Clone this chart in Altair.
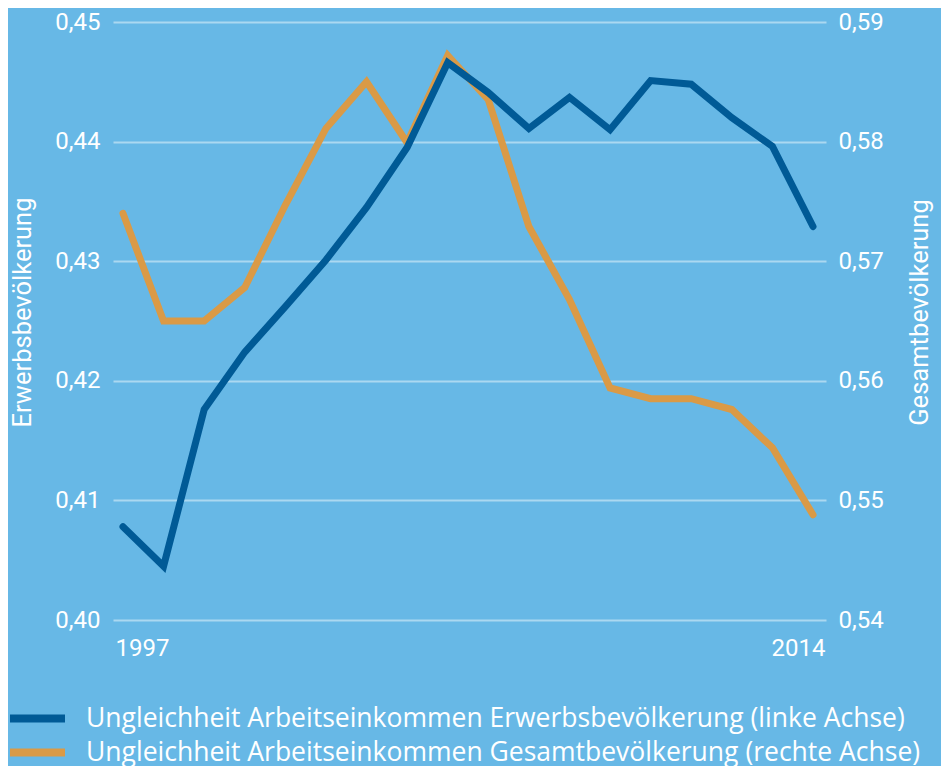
import altair as alt
import pandas as pd

years = list(range(1997, 2015))
erwerb = [0.4078, 0.4045, 0.4176, 0.4224, 0.4262, 0.4301, 0.4345, 0.4395, 0.4466,
          0.4441, 0.4411, 0.4437, 0.4410, 0.4451, 0.4448, 0.4420, 0.4396, 0.4329]
gesamt = [0.5740, 0.5650, 0.5650, 0.5678, 0.5747, 0.5811, 0.5850, 0.5799, 0.5872,
          0.5835, 0.5729, 0.5668, 0.5594, 0.5585, 0.5585, 0.5576, 0.5544, 0.5488]
series_names = ["Ungleichheit Arbeitseinkommen Erwerbsbevölkerung (linke Achse)",
                "Ungleichheit Arbeitseinkommen Gesamtbevölkerung (rechte Achse)"]
series_colors = ["#005a96", "#da9a46"]
left_ticks = [0.40, 0.41, 0.42, 0.43, 0.44, 0.45]
right_ticks = [0.54, 0.55, 0.56, 0.57, 0.58, 0.59]
x_ticks = [1997, 2014]

df = pd.DataFrame({"Jahr": years, "Erwerb": erwerb, "Gesamt": gesamt})

FONT = "Roboto"
LEGEND_FONT = "Open Sans"
BG = "#67b8e6"

x_enc = alt.X(
    "Jahr:Q",
    scale=alt.Scale(domain=[1996.754, 2014.32], nice=False, zero=False),
    axis=alt.Axis(
        values=x_ticks, format="d", title=None, grid=False, domain=False, ticks=False,
        labelFont=FONT, labelFontSize=24, labelColor="white", labelPadding=16,
        labelAlign={"expr": "datum.value < 2000 ? 'left' : 'right'"},
        labelOffset={"expr": "datum.value < 2000 ? -8 : 12"},
    ),
)

label_expr = "replace(format(datum.value, '.2f'), '.', ',')"


def legend_at(y):
    return alt.Legend(
        title=None, orient="none", legendX=-107, legendY=y,
        symbolType="stroke", symbolSize=3025, symbolStrokeWidth=8,
        labelFont=LEGEND_FONT, labelFontSize=26.5, labelColor="white", labelOffset=17,
        labelLimit=0,
    )


orange = alt.Chart(df).transform_calculate(
    Reihe=f"'{series_names[1]}'"
).mark_line(strokeWidth=7, strokeCap="round", strokeJoin="miter").encode(
    x=x_enc,
    y=alt.Y(
        "Gesamt:Q",
        scale=alt.Scale(domain=[0.54, 0.59], nice=False, zero=False),
        axis=alt.Axis(
            orient="right", values=right_ticks, labelExpr=label_expr,
            title="Gesamtbevölkerung", titleFont=FONT, titleFontSize=25.5, titleFontWeight="normal",
            titleColor="white", titleAngle=-90, titleX=93, titleY=290,
            titleAlign="center", titleBaseline="middle",
            grid=False, domain=False, ticks=False,
            labelFont=FONT, labelFontSize=24, labelColor="white", labelPadding=12,
            labelAlign="left", labelBaseline="middle",
        ),
    ),
    color=alt.Color(
        "Reihe:N",
        scale=alt.Scale(domain=[series_names[1]], range=[series_colors[1]]),
        legend=legend_at(699),
    ),
)

blue = alt.Chart(df).transform_calculate(
    Reihe=f"'{series_names[0]}'"
).mark_line(strokeWidth=7, strokeCap="round", strokeJoin="miter").encode(
    x=x_enc,
    y=alt.Y(
        "Erwerb:Q",
        scale=alt.Scale(domain=[0.40, 0.45], nice=False, zero=False),
        axis=alt.Axis(
            orient="left", values=left_ticks, labelExpr=label_expr,
            title="Erwerbsbevölkerung", titleFont=FONT, titleFontSize=25.5, titleFontWeight="normal",
            titleColor="white", titleAngle=-90, titleX=-91, titleY=290,
            titleAlign="center", titleBaseline="middle",
            grid=True, gridColor="white", gridOpacity=0.45, gridWidth=2,
            domain=False, ticks=False,
            labelFont=FONT, labelFontSize=24, labelColor="white", labelPadding=13,
            labelAlign="right", labelBaseline="middle",
        ),
    ),
    color=alt.Color(
        "Reihe2:N",
        scale=alt.Scale(domain=[series_names[0]], range=[series_colors[0]]),
        legend=legend_at(665),
    ),
).transform_calculate(Reihe2="datum.Reihe")

chart = (
    alt.layer(orange, blue)
    .resolve_scale(y="independent", color="independent")
    .properties(
        width=713, height=598,
        background=BG,
        padding={"left": 105, "top": 14, "right": 115, "bottom": 146},
        autosize=alt.AutoSizeParams(type="none"),
    )
    .configure_view(stroke=None)
)

chart.save("out.html", embed_options={"renderer": "svg", "actions": False})
